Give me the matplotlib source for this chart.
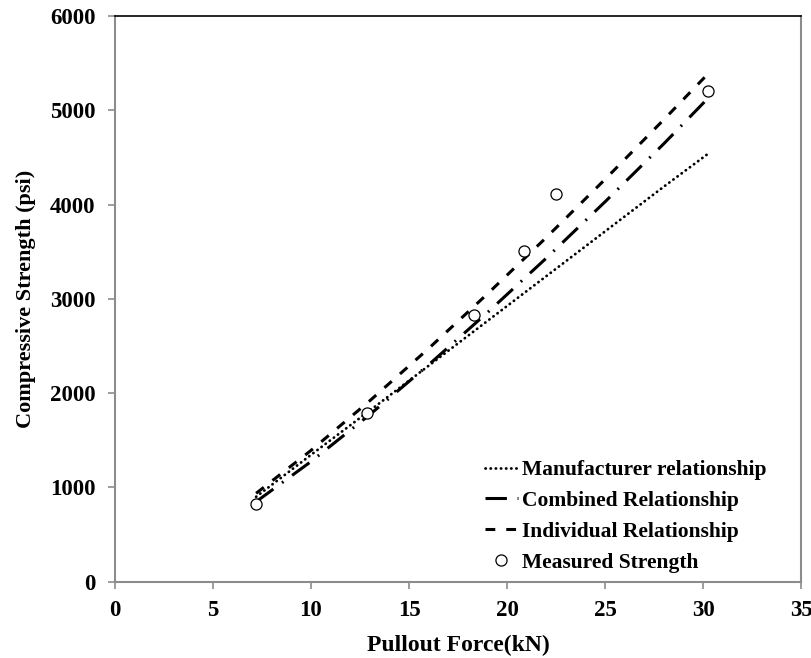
import matplotlib
matplotlib.use('Agg')
import matplotlib.pyplot as plt

# values
line_x = [7.2, 10, 13, 16, 19, 22, 25, 28, 30.2]
manufacturer = [900, 1345, 1815, 2290, 2765, 3240, 3715, 4190, 4530]
combined = [848, 1274, 1772, 2300, 2854, 3431, 4029, 4645, 5116]
individual = [937, 1392, 1919, 2473, 3052, 3650, 4267, 4901, 5375]

measured_x = [7.19, 12.87, 18.3, 20.87, 22.5, 30.27]
measured_y = [821, 1792, 2825, 3508, 4108, 5207]

plt.rcParams['font.family'] = ['Liberation Serif', 'DejaVu Serif']
plt.rcParams['font.weight'] = 'bold'

fig = plt.figure(figsize=(8.12, 6.58), dpi=100)
ax = fig.add_axes([0.1416, 0.116, 0.8449, 0.8597])

ax.plot(line_x, manufacturer, color='black', lw=2.0, linestyle=(0, (0.1, 1.75)),
        dash_capstyle='round', label='Manufacturer relationship')
ax.plot(line_x, combined, color='black', lw=2.2, linestyle=(0, (7, 3.5, 0.6, 3.5)),
        label='Combined Relationship')
ax.plot(line_x, individual, color='black', lw=2.2, linestyle=(0, (3.2, 3.6)),
        label='Individual Relationship')
ax.plot(measured_x, measured_y, linestyle='none', marker='o', markersize=8,
        markerfacecolor='white', markeredgecolor='black', markeredgewidth=0.9,
        label='Measured Strength')

ax.set_xlim(0, 35)
ax.set_ylim(0, 6000)
ax.set_xticks(range(0, 36, 5))
ax.set_yticks(range(0, 6001, 1000))

for side in ['left', 'bottom', 'right']:
    ax.spines[side].set_color('#8c8c8c')
    ax.spines[side].set_linewidth(1.5)
ax.spines['top'].set_color('black')
ax.spines['top'].set_linewidth(1.2)

ax.tick_params(axis='both', colors='#8c8c8c', labelcolor='black', labelsize=16.5,
               length=5, width=1.2, direction='out')
ax.tick_params(axis='x', pad=8)
ax.tick_params(axis='y', pad=9)
for lab in ax.get_xticklabels() + ax.get_yticklabels():
    lab.set_fontweight('bold')

ax.set_xlabel('Pullout Force(kN)', fontsize=17, fontweight='bold', labelpad=10)
ax.set_ylabel('Compressive Strength (psi)', fontsize=16, fontweight='bold', labelpad=10)

leg = ax.legend(loc='upper left', bbox_to_anchor=(0.539, 0.215), frameon=False,
                fontsize=15.5, borderpad=0, labelspacing=0.5, handlelength=1.55,
                handletextpad=0.2, borderaxespad=0)
for t in leg.get_texts():
    t.set_fontweight('bold')

fig.savefig('out.png', dpi=100)
